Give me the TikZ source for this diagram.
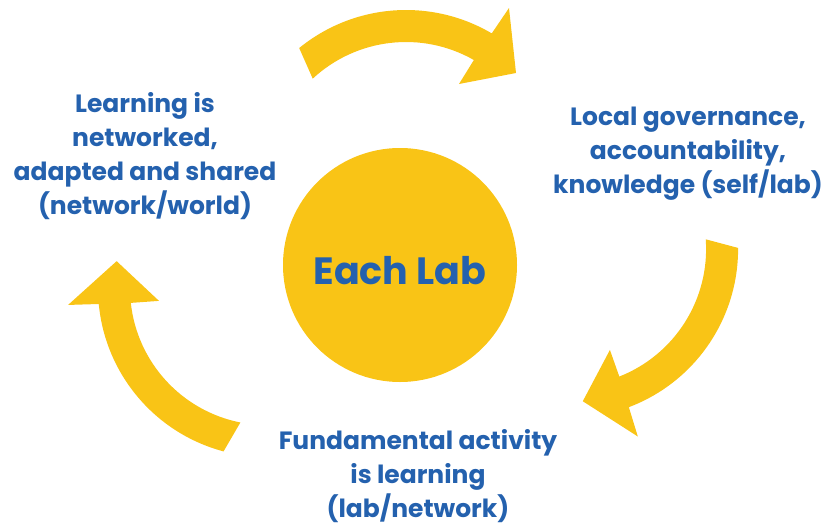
\documentclass[tikz,border=0pt]{standalone}
\usepackage{fontspec}
\setmainfont{Poppins}
\definecolor{labyellow}{RGB}{249,196,22}
\definecolor{labblue}{RGB}{36,97,174}
\tikzset{
  caption/.style={text=labblue, font=\bfseries\fontsize{25}{34}\selectfont, align=center, anchor=base},
  bentarrow/.pic={
    \fill[labyellow] (-129.2:169) arc[start angle=-129.2, end angle=-59.5, radius=169]
      -- (103,-171) -- (110,-106) -- (53,-95)
      -- (-60.3:137) arc[start angle=-60.3, end angle=-132.9, radius=137] -- cycle;
  }
}
\begin{document}
\begin{tikzpicture}[x=1pt,y=-1pt]
    \useasboundingbox (0,0) rectangle (825,530);
    \node[circle, fill=labyellow, minimum size=234pt, inner sep=0pt, text=labblue,
          font=\bfseries\fontsize{38}{46}\selectfont, text height=39pt] (lab) at (400,265) {Each Lab};
    \node[caption] (learn) at (145,214) {Learning is\\networked,\\adapted and shared\\(network/world)};
    \node[caption] (govern) at (688,193) {Local governance,\\accountability,\\knowledge (self/lab)};
    \node[caption] (activity) at (418,517) {Fundamental activity\\is learning\\(lab/network)};
    % same arrow, turned round the circle
    \pic at (406,179) {bentarrow};
    \pic[rotate=-128.8] at (569.1,249.1) {bentarrow};
    \pic[rotate=125.9] at (267,288.1) {bentarrow};
\end{tikzpicture}
\end{document}
